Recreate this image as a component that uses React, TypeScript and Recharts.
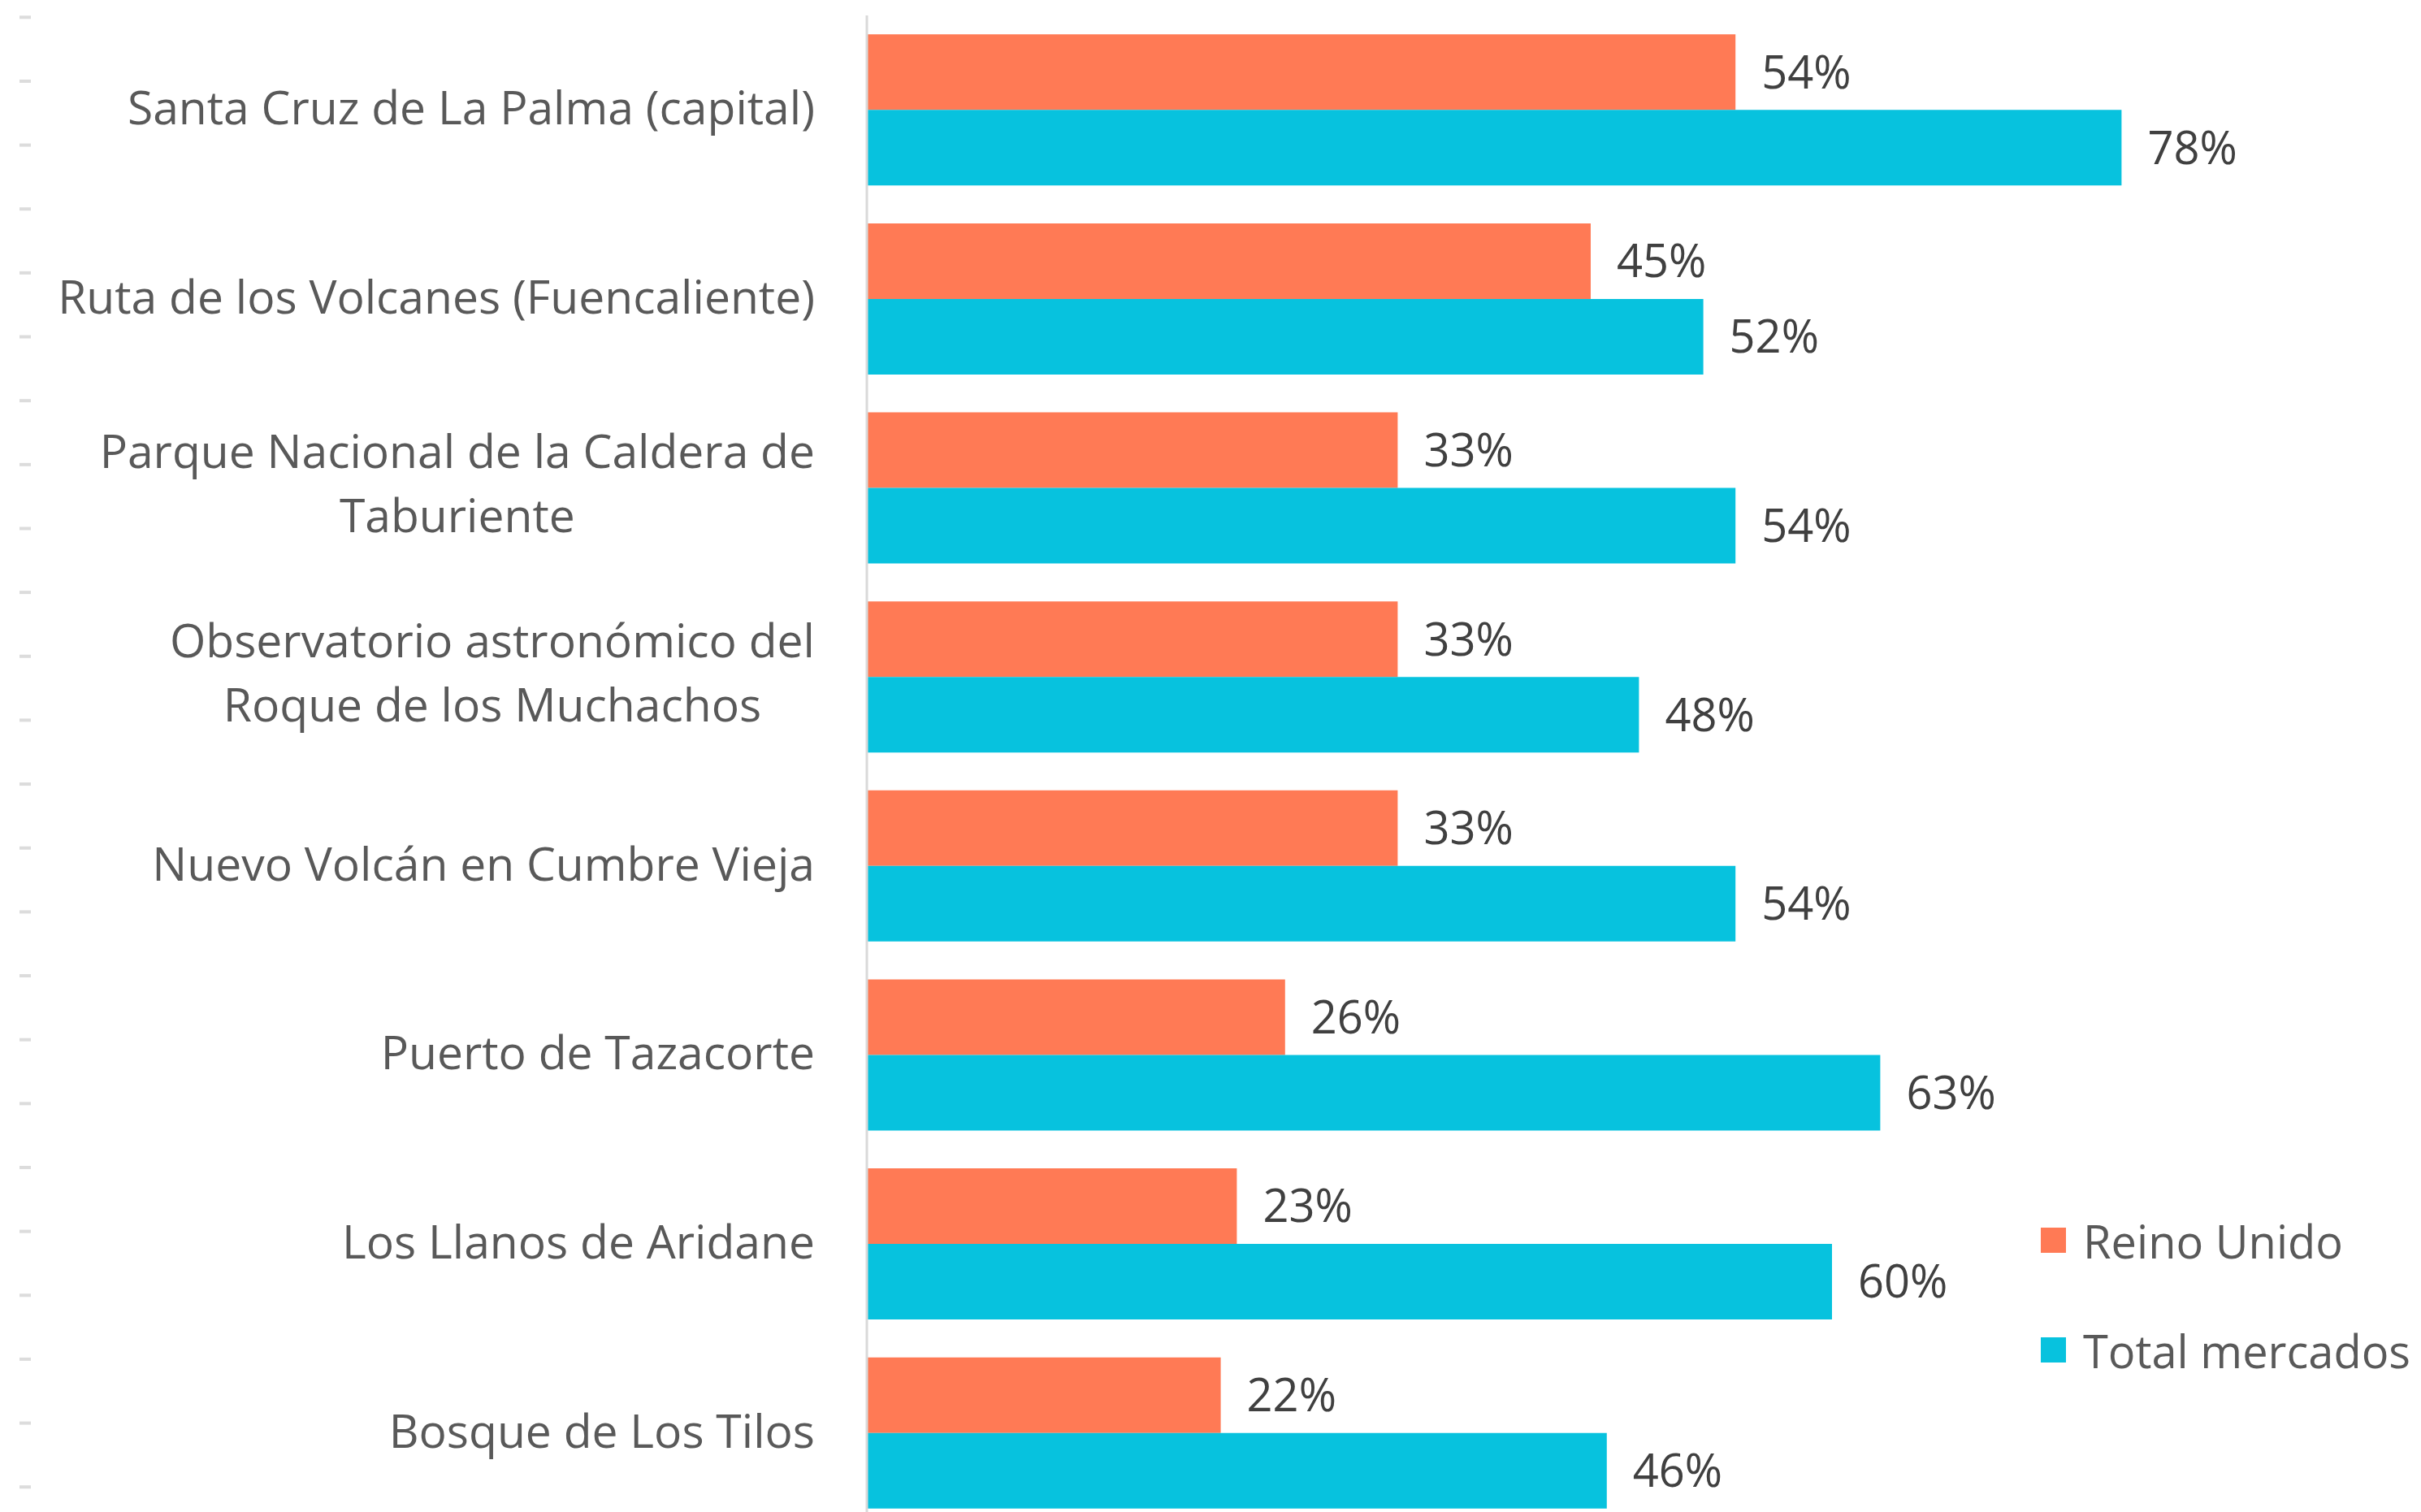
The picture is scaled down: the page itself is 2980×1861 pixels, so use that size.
import React from "react";
import { BarChart, Bar, XAxis, YAxis, LabelList, Legend } from "recharts";

// categories as shown on the axis, "\n" marks a line break in the label
const categories = [
  "Santa Cruz de La Palma (capital)",
  "Ruta de los Volcanes (Fuencaliente)",
  "Parque Nacional de la Caldera de\nTaburiente",
  "Observatorio astronómico del\nRoque de los Muchachos",
  "Nuevo Volcán en Cumbre Vieja",
  "Puerto de Tazacorte",
  "Los Llanos de Aridane",
  "Bosque de Los Tilos",
];
const reinoUnido = [54, 45, 33, 33, 33, 26, 23, 22];
const totalMercados = [78, 52, 54, 48, 54, 63, 60, 46];
const seriesNames = ["Reino Unido", "Total mercados"];
const seriesColors = ["#FF7A55", "#07C2DE"];
// faint tick marks on the far left edge
const edgeTicks = [0, 1, 2, 3, 4, 5, 6, 7, 8, 9, 10, 11, 12, 13, 14, 15, 16, 17, 18, 19, 20, 21, 22, 23];

const data = categories.map((name, i) => ({
  name,
  uk: reinoUnido[i],
  total: totalMercados[i],
}));
const edgeData = edgeTicks.map((v) => ({ v }));

const FONT = "'Open Sans', 'Noto Sans', sans-serif";
const FONT_SIZE = 56;
const CAT_SIZE = 57;

const ctx = typeof document !== "undefined" ? document.createElement("canvas").getContext("2d") : null;
function textWidth(s: string) {
  if (!ctx) return s.length * CAT_SIZE * 0.5;
  ctx.font = `${CAT_SIZE}px 'Open Sans'`;
  return ctx.measureText(s).width;
}

function CategoryTick({ x, y, payload }: any) {
  const lines = String(payload.value).split("\n");
  const right = x - 64;
  const lineGap = 79;
  const first = y + 18 - ((lines.length - 1) * lineGap) / 2 - (lines.length > 1 ? 3 : 0);
  const common = { fontFamily: FONT, fontSize: CAT_SIZE, fill: "#595959" };
  if (lines.length === 1) {
    return (
      <text x={right} y={first} textAnchor="end" {...common}>
        {lines[0]}
      </text>
    );
  }
  const maxW = Math.max(...lines.map(textWidth));
  const cx = right - maxW / 2;
  return (
    <g>
      {lines.map((l, i) => (
        <text key={i} x={cx} y={first + i * lineGap} textAnchor="middle" {...common}>
          {l}
        </text>
      ))}
    </g>
  );
}

// the edge axis shows only its tick marks, no text
const NoLabel = () => <g />;

function LegendBox({ payload }: any) {
  return (
    <div style={{ fontFamily: FONT, fontSize: FONT_SIZE, color: "#595959" }}>
      {(payload || []).map((p: any) => (
        <div key={p.value} style={{ display: "flex", alignItems: "center", height: 135, whiteSpace: "nowrap" }}>
          <span style={{ display: "inline-block", width: 31, height: 31, background: p.color, marginRight: 21 }} />
          <span>{p.value}</span>
        </div>
      ))}
    </div>
  );
}

export default function App() {
  return (
    <div
      style={{
        position: "absolute",
        left: 0,
        top: 0,
        width: 2980,
        height: 1861,
        overflow: "hidden",
        background: "#fff",
      }}
    >
      <BarChart
        width={2980}
        height={1880}
        data={data}
        layout="vertical"
        margin={{ top: 19, right: 131, bottom: 0, left: 38 }}
        barCategoryGap="10%"
        barGap={0}
      >
        <XAxis type="number" domain={[0, 90]} hide />
        <YAxis
          type="category"
          dataKey="name"
          width={1029}
          tickLine={false}
          tickSize={0}
          tickMargin={0}
          axisLine={{ stroke: "#d9d9d9", strokeWidth: 3 }}
          tick={<CategoryTick />}
          interval={0}
        />
        <Legend
          layout="horizontal"
          verticalAlign="middle"
          align="center"
          content={<LegendBox />}
          wrapperStyle={{ left: 2512, top: 1459, width: "auto" }}
        />
        <Bar dataKey="uk" name={seriesNames[0]} fill={seriesColors[0]} isAnimationActive={false}>
          <LabelList
            dataKey="uk"
            position="right"
            offset={32}
            formatter={(v: any) => `${v}%`}
            style={{ fontFamily: FONT, fontSize: FONT_SIZE, fill: "#404040" }}
          />
        </Bar>
        <Bar dataKey="total" name={seriesNames[1]} fill={seriesColors[1]} isAnimationActive={false}>
          <LabelList
            dataKey="total"
            position="right"
            offset={32}
            formatter={(v: any) => `${v}%`}
            style={{ fontFamily: FONT, fontSize: FONT_SIZE, fill: "#404040" }}
          />
        </Bar>
      </BarChart>
      <div style={{ position: "absolute", left: 0, top: 0, pointerEvents: "none" }}>
        <BarChart width={60} height={1880} data={edgeData} margin={{ top: 19, right: 0, bottom: 0, left: 0 }}>
          <XAxis hide />
          <YAxis
            type="number"
            dataKey="v"
            domain={[-0.029, 23.633]}
            allowDataOverflow
            reversed
            ticks={edgeTicks}
            interval={0}
            width={38}
            axisLine={false}
            tick={NoLabel}
            tickSize={14}
            tickLine={{ stroke: "#dcdcdc", strokeWidth: 4 }}
          />
        </BarChart>
      </div>
    </div>
  );
}
